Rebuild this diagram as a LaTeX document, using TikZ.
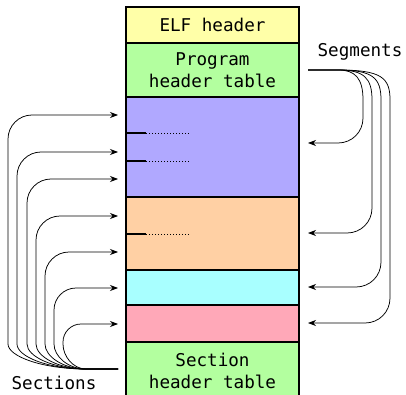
\documentclass[tikz,border=0pt]{standalone}
\usepackage{fontspec}
\newfontfamily\dmono{DejaVu Sans Mono}
\usetikzlibrary{arrows.meta}
\definecolor{cyel}{HTML}{FFFFA8}
\definecolor{cgrn}{HTML}{B3FF9F}
\definecolor{cpur}{HTML}{B0A8FF}
\definecolor{cora}{HTML}{FFD0A4}
\definecolor{ccya}{HTML}{A8FFFF}
\definecolor{cpnk}{HTML}{FFA8B8}
\begin{document}
\begin{tikzpicture}[x=1pt,y=-1pt,
  box/.style={draw=black, line width=1.6pt, minimum width=173pt, inner sep=0pt, align=center,
    font=\dmono\fontsize{17.6}{22}\selectfont},
  lab/.style={font=\dmono\fontsize{17.6}{22}\selectfont, inner sep=0pt},
  conn/.style={line width=0.75pt, -{Stealth[length=8pt,width=6pt]}},
  tick/.style={line width=1.6pt},
  dots/.style={line width=0.9pt, dash pattern=on 0.9pt off 2.1pt},
]
\useasboundingbox (0,0) rectangle (406,395);
% boxes
\node[box, fill=cyel, minimum height=36pt] (elf) at (212.5,25) {ELF header};
\node[box, fill=cgrn, minimum height=54pt] (pht) at (212.5,70) {Program\\header table};
\node[box, fill=cpur, minimum height=100pt] (s1) at (212.5,147) {};
\node[box, fill=cora, minimum height=73pt] (s2) at (212.5,233.5) {};
\node[box, fill=ccya, minimum height=35pt] (s3) at (212.5,287.5) {};
\node[box, fill=cpnk, minimum height=37pt] (s4) at (212.5,323.5) {};
\node[box, fill=cgrn, minimum height=58pt] (sht) at (212.5,371) {Section\\header table};
% sub-section marks
\foreach \y [count=\i] in {133,161,234}{
  \coordinate (ma\i) at (126,\y);
  \coordinate (mb\i) at (146,\y);
  \coordinate (mc\i) at (190,\y);
  \draw[tick] (ma\i) -- (mb\i);
  \draw[dots] (mb\i) -- (mc\i);
}
% labels
\node[lab] (seclab) at (54,383) {Sections};
\node[lab] (seglab) at (360,52) {Segments};
% section arrows
\coordinate (secroot) at (118,369);
\foreach \x/\y/\r [count=\i] in {8/115/24,17/152/24,27/179/24,36/216/24,45/252/24,54/288/22,63/324/18}{
  \coordinate (sec\i) at (118,\y);
  \draw[conn] (secroot) -- (86,369) .. controls ({86-0.55*(86-\x)},369) and (\x,356.6) .. (\x,344)
     -- (\x,\y+\r) .. controls (\x,\y+0.45*\r) and (\x+0.45*\r,\y) .. (\x+\r,\y) -- (sec\i);
}
% segment arrows
\coordinate (segroot) at (308,70);
\foreach \x/\y [count=\i] in {363/143,372/233,381/287,390/323}{
  \coordinate (seg\i) at (308,\y);
  \draw[conn] (segroot) -- (338,70) .. controls (\x-8,70) and (\x,78) .. (\x,100)
     -- (\x,\y-25) .. controls (\x,\y-11) and (\x-11,\y) .. (\x-25,\y) -- (seg\i);
}
\end{tikzpicture}
\end{document}
